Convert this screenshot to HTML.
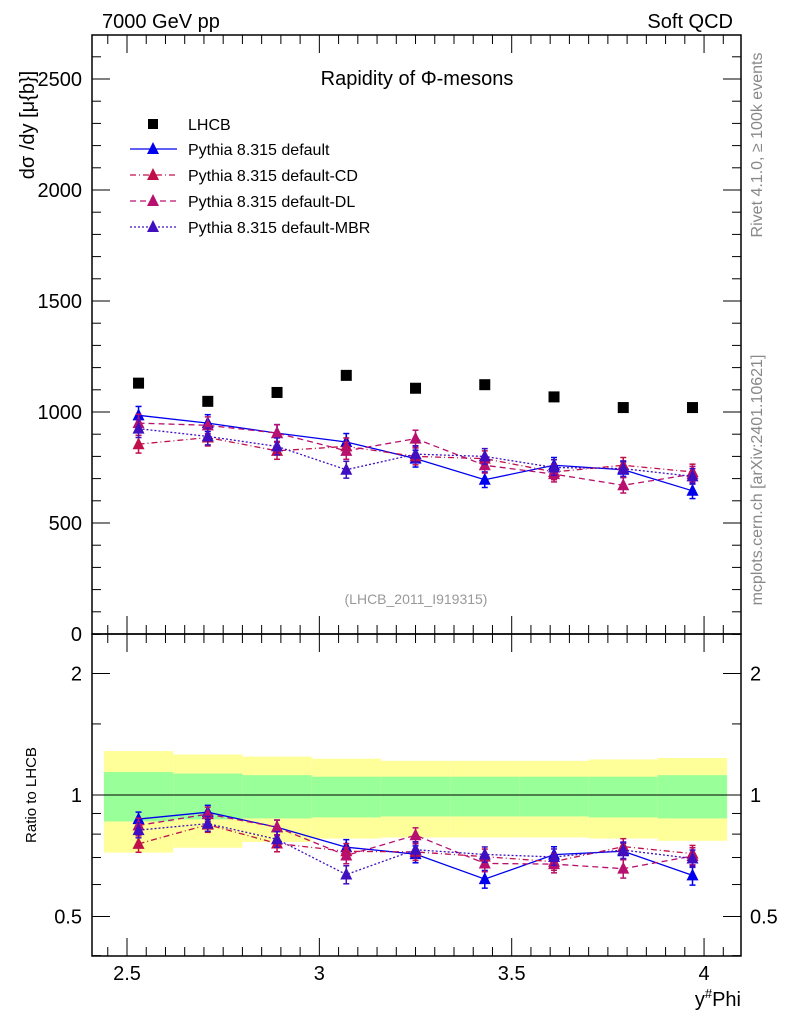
<!DOCTYPE html>
<html><head><meta charset="utf-8"><style>
body{margin:0;background:#fff;}
svg{display:block;font-family:"Liberation Sans",sans-serif;}
</style></head><body>
<svg id="chart" width="786" height="1024" viewBox="0 0 786 1024" xmlns="http://www.w3.org/2000/svg">
<g id="bands"></g>
<g id="axes"></g>
<g id="marks"></g>
<text x="102" y="28" font-size="20">7000 GeV pp</text>
<text x="733" y="28" font-size="20" text-anchor="end">Soft QCD</text>
<text x="417" y="85" font-size="20" text-anchor="middle">Rapidity of Φ-mesons</text>
<text transform="translate(34,125) rotate(-90)" font-size="20" text-anchor="middle">dσ /dy [μ{b}]</text>
<text transform="translate(36,795) rotate(-90)" font-size="15" text-anchor="middle">Ratio to LHCB</text>
<text x="741" y="1006" font-size="20" text-anchor="end">y<tspan font-size="13" dy="-8">#</tspan><tspan dy="8">Phi</tspan></text>
<text transform="translate(762,145) rotate(-90)" font-size="16" fill="#888" text-anchor="middle">Rivet 4.1.0, ≥ 100k events</text>
<text transform="translate(762,480) rotate(-90)" font-size="16" fill="#888" text-anchor="middle">mcplots.cern.ch [arXiv:2401.10621]</text>
<text x="416" y="604" font-size="14" fill="#999" text-anchor="middle">(LHCB_2011_I919315)</text>
<g id="legend"></g>
</svg>
<script>
const xCenters=[2.53,2.71,2.89,3.07,3.25,3.43,3.61,3.79,3.97];
const binEdges=[2.44,2.62,2.80,2.98,3.16,3.34,3.52,3.70,3.88,4.06];
const lhcb=[1130,1048,1088,1165,1107,1123,1068,1020,1020];
const pyDefault=[985,950,905,865,790,695,760,740,645];
const pyCD=[855,885,825,845,800,790,730,760,730];
const pyDL=[950,940,905,825,880,760,720,670,720];
const pyMBR=[925,890,845,740,810,800,750,745,710];
const errs=[40,38,38,38,38,35,35,35,35];
const yellowHi=[1.285,1.26,1.245,1.23,1.215,1.215,1.215,1.225,1.235];
const yellowLo=[0.72,0.74,0.765,0.78,0.785,0.785,0.785,0.78,0.77];
const greenHi=[1.14,1.13,1.12,1.11,1.11,1.11,1.11,1.11,1.12];
const greenLo=[0.86,0.87,0.875,0.88,0.885,0.885,0.885,0.88,0.875];
const mainTicks=[0,500,1000,1500,2000,2500];
const xTicks=[2.5,3,3.5,4];
const ratioTicks=[0.5,1,2];

const NS="http://www.w3.org/2000/svg";
const L=92,R=741,T=35,MB=634,RB=956;
const X=v=>127+(v-2.5)*384.7;
const Y=v=>634-v*0.222;
const RY=r=>795-Math.log2(r)*121.5;
function mk(tag,attrs,parent){const e=document.createElementNS(NS,tag);for(const k in attrs)e.setAttribute(k,attrs[k]);parent.appendChild(e);return e;}
const bands=document.getElementById('bands'),axes=document.getElementById('axes'),marks=document.getElementById('marks'),legend=document.getElementById('legend');

for(let i=0;i<xCenters.length;i++){
 const x0=X(binEdges[i]),x1=X(binEdges[i+1]);
 let b=mk('rect',{x:x0,y:RY(yellowHi[i]),width:x1-x0,height:RY(yellowLo[i])-RY(yellowHi[i]),fill:'#ffff99'},bands);
 
 
 b=mk('rect',{x:x0,y:RY(greenHi[i]),width:x1-x0,height:RY(greenLo[i])-RY(greenHi[i]),fill:'#99ff99'},bands);
 
 
}
mk('line',{x1:L,x2:R,y1:RY(1),y2:RY(1),stroke:'#000','stroke-width':1},bands);

let f=mk('rect',{x:L,y:T,width:R-L,height:MB-T,fill:'none',stroke:'#000','stroke-width':1.5},axes);


f=mk('rect',{x:L,y:MB,width:R-L,height:RB-MB,fill:'none',stroke:'#000','stroke-width':1.5},axes);



for(let v=0;v<=2700;v+=100){const y=Y(v);if(y<T)continue;const len=v%500==0?18:9;
 mk('line',{x1:L,x2:L+len,y1:y,y2:y,stroke:'#000'},axes);mk('line',{x1:R,x2:R-len,y1:y,y2:y,stroke:'#000'},axes);}
mainTicks.forEach(v=>{const t=mk('text',{x:82,y:Y(v)+7,'font-size':20,'text-anchor':'end'},axes);t.textContent=v;
 
 });
for(let v=2.45;v<=4.09;v+=0.05){const vv=Math.round(v*100)/100;const x=X(vv);const maj=Math.abs(vv*2-Math.round(vv*2))<1e-6;const len=maj?18:9;
 [[T,1],[MB,-1],[MB,1],[RB,-1]].forEach(([y,d])=>mk('line',{x1:x,x2:x,y1:y,y2:y+d*len,stroke:'#000'},axes));}
xTicks.forEach(v=>{const t=mk('text',{x:X(v),y:980,'font-size':20,'text-anchor':'middle'},axes);t.textContent=v;
 
 });
[0.4,0.5,0.6,0.7,0.8,0.9,1,1.5,2,2.5,3].forEach(v=>{const y=RY(v);if(y<MB||y>RB)return;const maj=[0.5,1,2].includes(v);const len=maj?18:9;
 mk('line',{x1:L,x2:L+len,y1:y,y2:y,stroke:'#000'},axes);mk('line',{x1:R,x2:R-len,y1:y,y2:y,stroke:'#000'},axes);});
ratioTicks.forEach(v=>{let t=mk('text',{x:82,y:RY(v)+7,'font-size':20,'text-anchor':'end'},axes);t.textContent=v;
 
 
 t=mk('text',{x:750,y:RY(v)+7,'font-size':20},axes);t.textContent=v;
 
 });

function tri(x,y,c,parent){return mk('polygon',{points:`${x-6},${y+5} ${x+6},${y+5} ${x},${y-7}`,fill:c},parent);}
const series=[
 {name:'default',d:pyDefault,c:'#0000ee',dash:'',label:'Pythia 8.315 default'},
 {name:'default-cd',d:pyCD,c:'#c0104a',dash:'6,3,1,3',label:'Pythia 8.315 default-CD'},
 {name:'default-dl',d:pyDL,c:'#b8106e',dash:'6,4',label:'Pythia 8.315 default-DL'},
 {name:'default-mbr',d:pyMBR,c:'#4010c0',dash:'2,2',label:'Pythia 8.315 default-MBR'}];
series.forEach(s=>{
 const g=mk('g',{},marks);
 
 
 const pm=s.d.map((v,i)=>X(xCenters[i])+','+Y(v)).join(' ');
 mk('polyline',{points:pm,fill:'none',stroke:s.c,'stroke-width':1.3,'stroke-dasharray':s.dash},g);
 const pr=s.d.map((v,i)=>X(xCenters[i])+','+RY(v/lhcb[i])).join(' ');
 mk('polyline',{points:pr,fill:'none',stroke:s.c,'stroke-width':1.3,'stroke-dasharray':s.dash},g);
 s.d.forEach((v,i)=>{const x=X(xCenters[i]);
  [[Y(v),Y(v+errs[i]),Y(v-errs[i])],[RY(v/lhcb[i]),RY((v+errs[i])/lhcb[i]),RY((v-errs[i])/lhcb[i])]].forEach(([y,y1,y2])=>{
   mk('line',{x1:x,x2:x,y1:y1,y2:y2,stroke:s.c,'stroke-width':1.5},g);
   mk('line',{x1:x-3,x2:x+3,y1:y1,y2:y1,stroke:s.c,'stroke-width':1.5},g);
   mk('line',{x1:x-3,x2:x+3,y1:y2,y2:y2,stroke:s.c,'stroke-width':1.5},g);
   const p=tri(x,y,s.c,g);
   
   
  });});
});
lhcb.forEach((v,i)=>{const r=mk('rect',{x:X(xCenters[i])-5.5,y:Y(v)-5.5,width:11,height:11,fill:'#000'},marks);
 
 });

const ly=[124,149,175,201,227];
let e=mk('rect',{x:148,y:ly[0]-5,width:10,height:10,fill:'#000'},legend);


let t=mk('text',{x:188,y:ly[0]+6,'font-size':16},legend);t.textContent='LHCB';


series.forEach((s,k)=>{const y=ly[k+1];
 mk('line',{x1:130,x2:177,y1:y,y2:y,stroke:s.c,'stroke-width':1.3,'stroke-dasharray':s.dash},legend);
 tri(153,y,s.c,legend);
 const tt=mk('text',{x:188,y:y+6,'font-size':16},legend);tt.textContent=s.label;
 
 });
</script>
</body></html>
